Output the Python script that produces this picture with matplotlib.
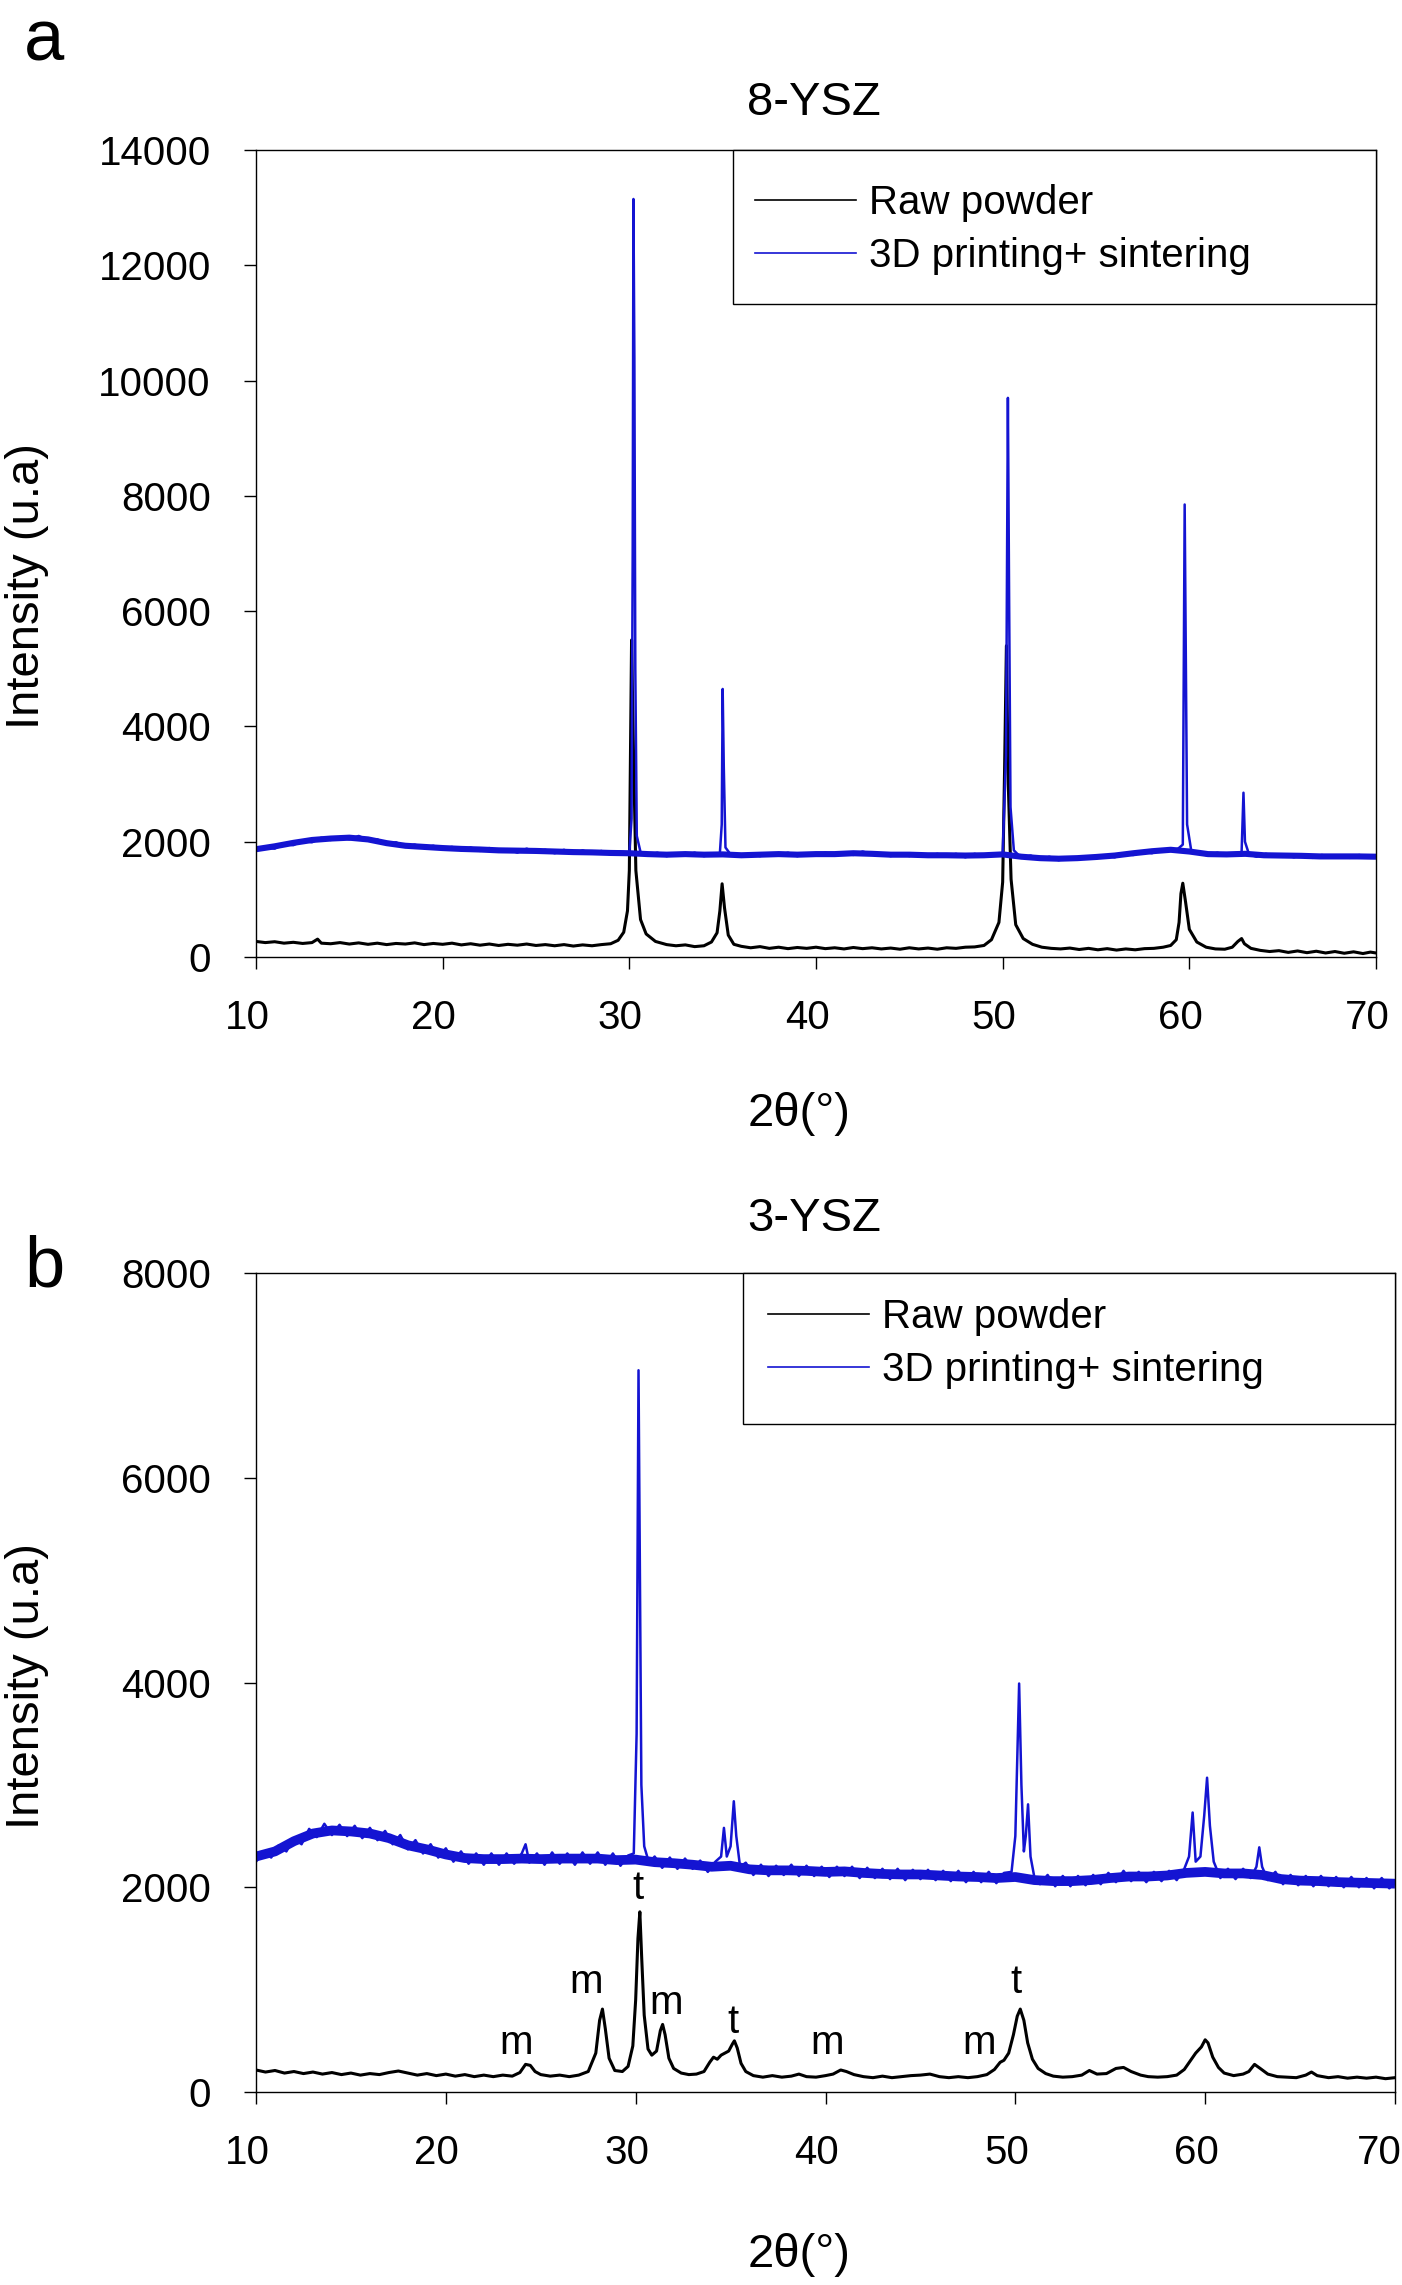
# XRD patterns of 8-YSZ and 3-YSZ, raw powder vs printed + sintered

import numpy as np
import matplotlib
matplotlib.use('Agg')
import matplotlib.pyplot as plt
import matplotlib.transforms as mtransforms
from matplotlib.lines import Line2D
from matplotlib.patches import Rectangle

plt.rcParams['font.family'] = ['Liberation Sans', 'DejaVu Sans']
plt.rcParams['font.size'] = 29

# ---- panel a : 8-YSZ, (2theta, intensity) ----
raw8 = [(10.0, 270), (10.5, 250), (11.0, 265), (11.5, 240), (12.0, 255), (12.5, 235), (13.0, 250),
        (13.3, 310), (13.5, 240), (14.0, 230), (14.5, 250), (15.0, 225), (15.5, 245), (16.0, 220),
        (16.5, 240), (17.0, 215), (17.5, 235), (18.0, 225), (18.5, 245), (19.0, 215), (19.5, 235),
        (20.0, 220), (20.5, 240), (21.0, 210), (21.5, 230), (22.0, 205), (22.5, 225), (23.0, 200),
        (23.5, 220), (24.0, 205), (24.5, 225), (25.0, 200), (25.5, 215), (26.0, 195), (26.5, 215),
        (27.0, 190), (27.5, 210), (28.0, 195), (28.5, 215), (29.0, 230), (29.4, 290), (29.7, 430),
        (29.9, 800), (30.0, 1500), (30.12, 5500), (30.22, 3600), (30.35, 1500), (30.6, 650),
        (30.9, 400), (31.4, 270), (32.0, 215), (32.5, 195), (33.0, 210), (33.5, 180), (34.0, 195),
        (34.4, 260), (34.7, 420), (34.85, 800), (34.97, 1270), (35.1, 850), (35.3, 380), (35.6, 220),
        (36.0, 185), (36.5, 160), (37.0, 180), (37.5, 150), (38.0, 170), (38.5, 145), (39.0, 165),
        (39.5, 150), (40.0, 170), (40.5, 145), (41.0, 160), (41.5, 140), (42.0, 165), (42.5, 145),
        (43.0, 160), (43.5, 140), (44.0, 155), (44.5, 135), (45.0, 160), (45.5, 140), (46.0, 155),
        (46.5, 135), (47.0, 160), (47.5, 150), (48.0, 170), (48.5, 175), (49.0, 200), (49.4, 300),
        (49.8, 600), (50.0, 1300), (50.1, 3200), (50.2, 5400), (50.3, 3000), (50.45, 1350),
        (50.7, 560), (51.1, 320), (51.6, 220), (52.1, 170), (52.6, 150), (53.1, 140), (53.6, 155),
        (54.1, 130), (54.6, 150), (55.1, 125), (55.6, 145), (56.1, 120), (56.6, 140), (57.1, 125),
        (57.6, 145), (58.1, 150), (58.6, 170), (59.0, 200), (59.3, 300), (59.45, 600), (59.55, 1100),
        (59.65, 1280), (59.8, 950), (60.0, 480), (60.4, 260), (60.9, 170), (61.4, 140), (61.9, 135),
        (62.3, 170), (62.6, 270), (62.8, 320), (62.95, 230), (63.3, 150), (63.8, 115), (64.3, 95),
        (64.8, 110), (65.3, 80), (65.8, 105), (66.3, 75), (66.8, 100), (67.3, 70), (67.8, 95),
        (68.3, 65), (68.8, 90), (69.3, 60), (69.7, 85), (70.0, 70)]

sint8 = [(10.0, 1850), (10.5, 1900), (11.0, 1880), (11.5, 1960), (12.0, 1940), (12.5, 2020),
         (13.0, 1990), (13.5, 2070), (14.0, 2030), (14.5, 2080), (15.0, 2040), (15.5, 2100),
         (16.0, 2030), (16.5, 2040), (17.0, 1960), (17.5, 1990), (18.0, 1910), (18.5, 1950),
         (19.0, 1890), (19.5, 1930), (20.0, 1870), (20.5, 1910), (21.0, 1850), (21.5, 1900),
         (22.0, 1840), (22.5, 1890), (23.0, 1830), (23.5, 1870), (24.0, 1810), (24.5, 1880),
         (25.0, 1820), (25.5, 1860), (26.0, 1800), (26.5, 1860), (27.0, 1790), (27.5, 1850),
         (28.0, 1790), (28.5, 1840), (29.0, 1780), (29.5, 1830), (30.0, 1810), (30.12, 2400),
         (30.18, 7000), (30.22, 13150), (30.27, 10400), (30.32, 5000), (30.4, 2100), (30.6, 1820),
         (31.0, 1760), (31.5, 1810), (32.0, 1750), (32.5, 1800), (33.0, 1760), (33.5, 1810),
         (34.0, 1750), (34.5, 1800), (34.85, 1800), (34.95, 2300), (35.0, 4650), (35.06, 3300),
         (35.15, 1900), (35.4, 1790), (36.0, 1740), (36.5, 1790), (37.0, 1750), (37.5, 1800),
         (38.0, 1760), (38.5, 1810), (39.0, 1750), (39.5, 1800), (40.0, 1760), (40.5, 1810),
         (41.0, 1760), (41.5, 1810), (42.0, 1770), (42.5, 1830), (43.0, 1780), (43.5, 1800),
         (44.0, 1750), (44.5, 1800), (45.0, 1750), (45.5, 1800), (46.0, 1740), (46.5, 1790),
         (47.0, 1740), (47.5, 1790), (48.0, 1730), (48.5, 1790), (49.0, 1740), (49.5, 1790),
         (50.0, 1800), (50.18, 3500), (50.28, 9700), (50.34, 6500), (50.42, 2600), (50.6, 1850),
         (51.0, 1720), (51.5, 1760), (52.0, 1690), (52.5, 1740), (53.0, 1680), (53.5, 1730),
         (54.0, 1690), (54.5, 1740), (55.0, 1710), (55.5, 1760), (56.0, 1730), (56.5, 1790),
         (57.0, 1770), (57.5, 1830), (58.0, 1800), (58.5, 1870), (59.0, 1840), (59.4, 1880),
         (59.65, 1950), (59.75, 7850), (59.81, 5200), (59.88, 2300), (60.1, 1850), (60.5, 1800),
         (61.0, 1760), (61.5, 1810), (62.0, 1760), (62.5, 1800), (62.8, 1820), (62.9, 2850),
         (62.98, 2000), (63.2, 1780), (63.6, 1740), (64.1, 1790), (64.6, 1740), (65.1, 1780),
         (65.6, 1730), (66.1, 1780), (66.6, 1720), (67.1, 1770), (67.6, 1730), (68.1, 1760),
         (68.6, 1720), (69.1, 1770), (69.6, 1730), (70.0, 1740)]

# background level of the sintered 8-YSZ trace (centre of the noise band)
bg8 = [(10, 1870), (11, 1920), (12, 1980), (13, 2030), (14, 2055), (15, 2070), (16, 2040),
       (17, 1975), (18, 1930), (19, 1910), (20, 1890), (21, 1875), (22, 1865), (23, 1850),
       (24, 1845), (25, 1840), (26, 1830), (27, 1820), (28, 1815), (29, 1805), (30, 1800),
       (31, 1785), (32, 1775), (33, 1785), (34, 1775), (35, 1780), (36, 1765), (37, 1775),
       (38, 1785), (39, 1775), (40, 1785), (41, 1785), (42, 1800), (43, 1790), (44, 1775),
       (45, 1775), (46, 1765), (47, 1765), (48, 1760), (49, 1765), (50, 1780), (51, 1740),
       (52, 1715), (53, 1705), (54, 1715), (55, 1735), (56, 1760), (57, 1800), (58, 1835),
       (59, 1860), (60, 1830), (61, 1785), (62, 1780), (63, 1790), (64, 1765), (65, 1760),
       (66, 1755), (67, 1745), (68, 1745), (69, 1745), (70, 1740)]

# ---- panel b : 3-YSZ ----
raw3 = [(10.0, 215), (10.5, 195), (11.0, 210), (11.5, 185), (12.0, 200), (12.5, 180), (13.0, 195),
        (13.5, 175), (14.0, 190), (14.5, 170), (15.0, 185), (15.5, 165), (16.0, 180), (16.5, 170),
        (17.0, 190), (17.5, 205), (18.0, 185), (18.5, 165), (19.0, 180), (19.5, 160), (20.0, 175),
        (20.5, 155), (21.0, 170), (21.5, 150), (22.0, 165), (22.5, 150), (23.0, 165), (23.5, 155),
        (23.9, 190), (24.2, 270), (24.45, 260), (24.7, 200), (25.0, 170), (25.5, 155), (26.0, 165),
        (26.5, 150), (27.0, 165), (27.5, 200), (27.9, 380), (28.1, 700), (28.25, 810), (28.4, 620),
        (28.6, 330), (28.9, 210), (29.3, 200), (29.6, 250), (29.85, 450), (30.0, 900), (30.12, 1500),
        (30.22, 1760), (30.32, 1300), (30.45, 750), (30.65, 420), (30.85, 360), (31.1, 400),
        (31.3, 600), (31.42, 660), (31.55, 560), (31.75, 330), (32.0, 230), (32.4, 185), (32.8, 170),
        (33.2, 175), (33.6, 200), (33.9, 290), (34.1, 340), (34.3, 320), (34.5, 360), (34.7, 380),
        (34.9, 400), (35.1, 470), (35.2, 500), (35.35, 430), (35.55, 280), (35.8, 200), (36.2, 160),
        (36.7, 145), (37.2, 160), (37.7, 145), (38.2, 155), (38.6, 175), (39.0, 150), (39.5, 145),
        (40.0, 160), (40.4, 175), (40.8, 215), (41.1, 200), (41.5, 170), (42.0, 150), (42.5, 140),
        (43.0, 155), (43.5, 140), (44.0, 150), (44.5, 160), (45.0, 165), (45.5, 175), (46.0, 150),
        (46.5, 140), (47.0, 150), (47.5, 140), (48.0, 150), (48.5, 170), (48.9, 220), (49.2, 290),
        (49.4, 310), (49.65, 380), (49.9, 560), (50.1, 740), (50.26, 810), (50.45, 700), (50.65, 480),
        (50.9, 320), (51.2, 230), (51.6, 180), (52.0, 155), (52.5, 145), (53.0, 150), (53.5, 165),
        (53.9, 210), (54.3, 175), (54.8, 180), (55.3, 230), (55.7, 240), (56.1, 200), (56.6, 165),
        (57.0, 150), (57.5, 145), (58.0, 150), (58.5, 165), (58.9, 220), (59.2, 300), (59.5, 380),
        (59.8, 440), (60.0, 510), (60.15, 480), (60.4, 340), (60.7, 240), (61.0, 185), (61.5, 160),
        (62.0, 175), (62.3, 200), (62.6, 270), (62.9, 230), (63.3, 175), (63.8, 150), (64.3, 145),
        (64.8, 140), (65.3, 165), (65.6, 195), (65.9, 160), (66.5, 140), (67.0, 150), (67.5, 135),
        (68.0, 145), (68.5, 135), (69.0, 145), (69.5, 130), (70.0, 140)]

sint3 = [(10.0, 2250), (10.4, 2350), (10.8, 2290), (11.2, 2410), (11.6, 2350), (12.0, 2480),
         (12.4, 2420), (12.8, 2570), (13.2, 2490), (13.6, 2620), (14.0, 2510), (14.4, 2610),
         (14.8, 2500), (15.2, 2600), (15.6, 2480), (16.0, 2580), (16.4, 2460), (16.8, 2550),
         (17.2, 2420), (17.6, 2510), (18.0, 2370), (18.4, 2460), (18.8, 2330), (19.2, 2420),
         (19.6, 2290), (20.0, 2380), (20.4, 2250), (20.8, 2350), (21.2, 2230), (21.6, 2330),
         (22.0, 2220), (22.4, 2330), (22.8, 2220), (23.2, 2330), (23.6, 2230), (24.0, 2330),
         (24.2, 2420), (24.4, 2240), (24.8, 2330), (25.2, 2220), (25.6, 2340), (26.0, 2230),
         (26.4, 2330), (26.8, 2220), (27.2, 2340), (27.6, 2230), (28.0, 2340), (28.4, 2220),
         (28.8, 2330), (29.2, 2210), (29.6, 2310), (29.9, 2330), (30.05, 3500), (30.15, 7050),
         (30.22, 5200), (30.3, 3000), (30.45, 2400), (30.7, 2240), (31.0, 2300), (31.4, 2190),
         (31.8, 2290), (32.2, 2180), (32.6, 2280), (33.0, 2180), (33.4, 2260), (33.8, 2150),
         (34.2, 2250), (34.5, 2300), (34.65, 2580), (34.8, 2300), (35.0, 2400), (35.17, 2840),
         (35.3, 2500), (35.5, 2200), (35.8, 2240), (36.2, 2120), (36.6, 2220), (37.0, 2110),
         (37.4, 2210), (37.8, 2120), (38.2, 2220), (38.6, 2110), (39.0, 2210), (39.4, 2110),
         (39.8, 2200), (40.2, 2100), (40.6, 2200), (41.0, 2110), (41.4, 2200), (41.8, 2090),
         (42.2, 2190), (42.6, 2090), (43.0, 2180), (43.4, 2080), (43.8, 2180), (44.2, 2070),
         (44.6, 2170), (45.0, 2080), (45.4, 2170), (45.8, 2070), (46.2, 2160), (46.6, 2060),
         (47.0, 2160), (47.4, 2050), (47.8, 2150), (48.2, 2050), (48.6, 2150), (49.0, 2040),
         (49.4, 2140), (49.8, 2150), (50.0, 2500), (50.2, 3990), (50.32, 3000), (50.45, 2350),
         (50.55, 2500), (50.67, 2810), (50.8, 2300), (51.0, 2100), (51.3, 2030), (51.7, 2120),
         (52.1, 2010), (52.5, 2110), (52.9, 2010), (53.3, 2110), (53.7, 2020), (54.1, 2120),
         (54.5, 2030), (54.9, 2140), (55.3, 2050), (55.7, 2160), (56.1, 2060), (56.5, 2150),
         (56.9, 2050), (57.3, 2150), (57.7, 2060), (58.1, 2160), (58.5, 2070), (58.9, 2180),
         (59.15, 2300), (59.34, 2730), (59.5, 2250), (59.75, 2300), (59.95, 2700), (60.1, 3070),
         (60.25, 2600), (60.45, 2250), (60.8, 2090), (61.2, 2180), (61.6, 2080), (62.0, 2180),
         (62.4, 2090), (62.7, 2200), (62.85, 2390), (63.0, 2200), (63.3, 2070), (63.7, 2150),
         (64.1, 2030), (64.5, 2120), (64.9, 2020), (65.3, 2110), (65.7, 2010), (66.1, 2110),
         (66.5, 2010), (66.9, 2100), (67.3, 2000), (67.7, 2100), (68.1, 2000), (68.5, 2090),
         (68.9, 1990), (69.3, 2090), (69.7, 1990), (70.0, 2050)]

bg3 = [(10, 2300), (11, 2350), (12, 2450), (13, 2525), (14, 2555), (15, 2545), (16, 2525),
       (17, 2480), (18, 2410), (19, 2370), (20, 2320), (21, 2285), (22, 2275), (23, 2275),
       (24, 2280), (25, 2275), (26, 2280), (27, 2280), (28, 2280), (29, 2265), (30, 2270),
       (31, 2245), (32, 2235), (33, 2220), (34, 2200), (35, 2210), (36, 2175), (37, 2165),
       (38, 2165), (39, 2160), (40, 2150), (41, 2155), (42, 2140), (43, 2130), (44, 2125),
       (45, 2125), (46, 2115), (47, 2105), (48, 2100), (49, 2090), (50, 2100), (51, 2070),
       (52, 2060), (53, 2060), (54, 2070), (55, 2090), (56, 2105), (57, 2105), (58, 2115),
       (59, 2140), (60, 2150), (61, 2135), (62, 2135), (63, 2120), (64, 2080), (65, 2065),
       (66, 2060), (67, 2050), (68, 2045), (69, 2040), (70, 2035)]

# phase marks on the raw 3-YSZ pattern
phase_text = ['m', 'm', 't', 'm', 't', 'm', 'm', 't']
phase_x = [23.7, 27.4, 30.1, 31.6, 35.1, 40.1, 48.1, 50.05]
phase_y = [478, 1075, 1992, 869, 684, 478, 478, 1075]

BLUE = '#1414d2'
W, H = 1402, 2285

fig = plt.figure(figsize=(W / 100, H / 100), dpi=100)
ax_a = fig.add_axes([256 / W, 1 - 957 / H, 1120 / W, 807 / H])
ax_b = fig.add_axes([256 / W, 1 - 2092 / H, 1139 / W, 819 / H])

# thin trace for the peaks, a broad stroke for the noisy background band
for ax, raw, sint, bg, band in ((ax_a, raw8, sint8, bg8, 4.4), (ax_b, raw3, sint3, bg3, 7.0)):
    rx, ry = zip(*raw)
    sx, sy = zip(*sint)
    gx, gy = zip(*bg)
    ax.plot(rx, ry, color='black', lw=2.2)
    ax.plot(gx, gy, color=BLUE, lw=band, solid_capstyle='butt')
    ax.plot(sx, sy, color=BLUE, lw=1.8)

for t, x, y in zip(phase_text, phase_x, phase_y):
    ax_b.text(x, y, t, ha='center', va='center', fontsize=29)

ax_a.set_ylim(0, 14000)
ax_a.set_yticks(range(0, 14001, 2000))
ax_b.set_ylim(0, 8000)
ax_b.set_yticks(range(0, 8001, 2000))

shift = mtransforms.ScaledTranslation(-0.09, 0, fig.dpi_scale_trans)
for ax in (ax_a, ax_b):
    ax.set_xlim(10, 70)
    ax.set_xticks(range(10, 71, 10))
    for s in ax.spines.values():
        s.set_linewidth(1.0)
    ax.tick_params(axis='both', direction='out', length=8.5, width=1.0, labelsize=29)
    ax.tick_params(axis='y', pad=24)
    ax.tick_params(axis='x', pad=22)
    for lab in ax.get_xticklabels():
        lab.set_transform(lab.get_transform() + shift)

# the last label of panel b sits right at the picture edge; keep it inside
last = ax_b.get_xticklabels()[-1]
last.set_transform(last.get_transform()
                   + mtransforms.ScaledTranslation(-0.07, 0, fig.dpi_scale_trans))

# legend: drawn frame plus frameless legend entries
handles = [Line2D([], [], color='black', lw=1.2), Line2D([], [], color=BLUE, lw=1.2)]
labels = ['Raw powder', '3D printing+ sintering']
for ax, box_x0, box_y0, hx, hy in ((ax_a, 0.426, 0.809, 0.4455, 0.958),
                                   (ax_b, 0.4276, 0.8156, 0.4495, 0.9695)):
    ax.add_patch(Rectangle((box_x0, box_y0), 1 - box_x0, 1 - box_y0, transform=ax.transAxes,
                           facecolor='white', edgecolor='black', lw=1.0, zorder=4,
                           clip_on=False))
    leg = ax.legend(handles, labels, loc='upper left', bbox_to_anchor=(hx, hy),
                    borderaxespad=0, borderpad=0, frameon=False, fontsize=29,
                    handlelength=2.5, handletextpad=0.32, labelspacing=0.375)
    leg.set_zorder(5)

# titles, axis labels and panel letters
fig.text(814 / W, 1 - 103 / H, '8-YSZ', ha='center', va='center', fontsize=34)
fig.text(814 / W, 1 - 1219 / H, '3-YSZ', ha='center', va='center', fontsize=34)
fig.text(27 / W, 1 - 586 / H, 'Intensity (u.a)', rotation=90, ha='center', va='center', fontsize=34)
fig.text(27 / W, 1 - 1686 / H, 'Intensity (u.a)', rotation=90, ha='center', va='center', fontsize=34)
fig.text(799 / W, 1 - 1114 / H, '2θ(°)', ha='center', va='center', fontsize=34)
fig.text(799 / W, 1 - 2255 / H, '2θ(°)', ha='center', va='center', fontsize=34)
fig.text(44 / W, 1 - 42 / H, 'a', ha='center', va='center', fontsize=52)
fig.text(44 / W, 1 - 1268 / H, 'b', ha='center', va='center', fontsize=52)

fig.savefig('out.png', dpi=100)
